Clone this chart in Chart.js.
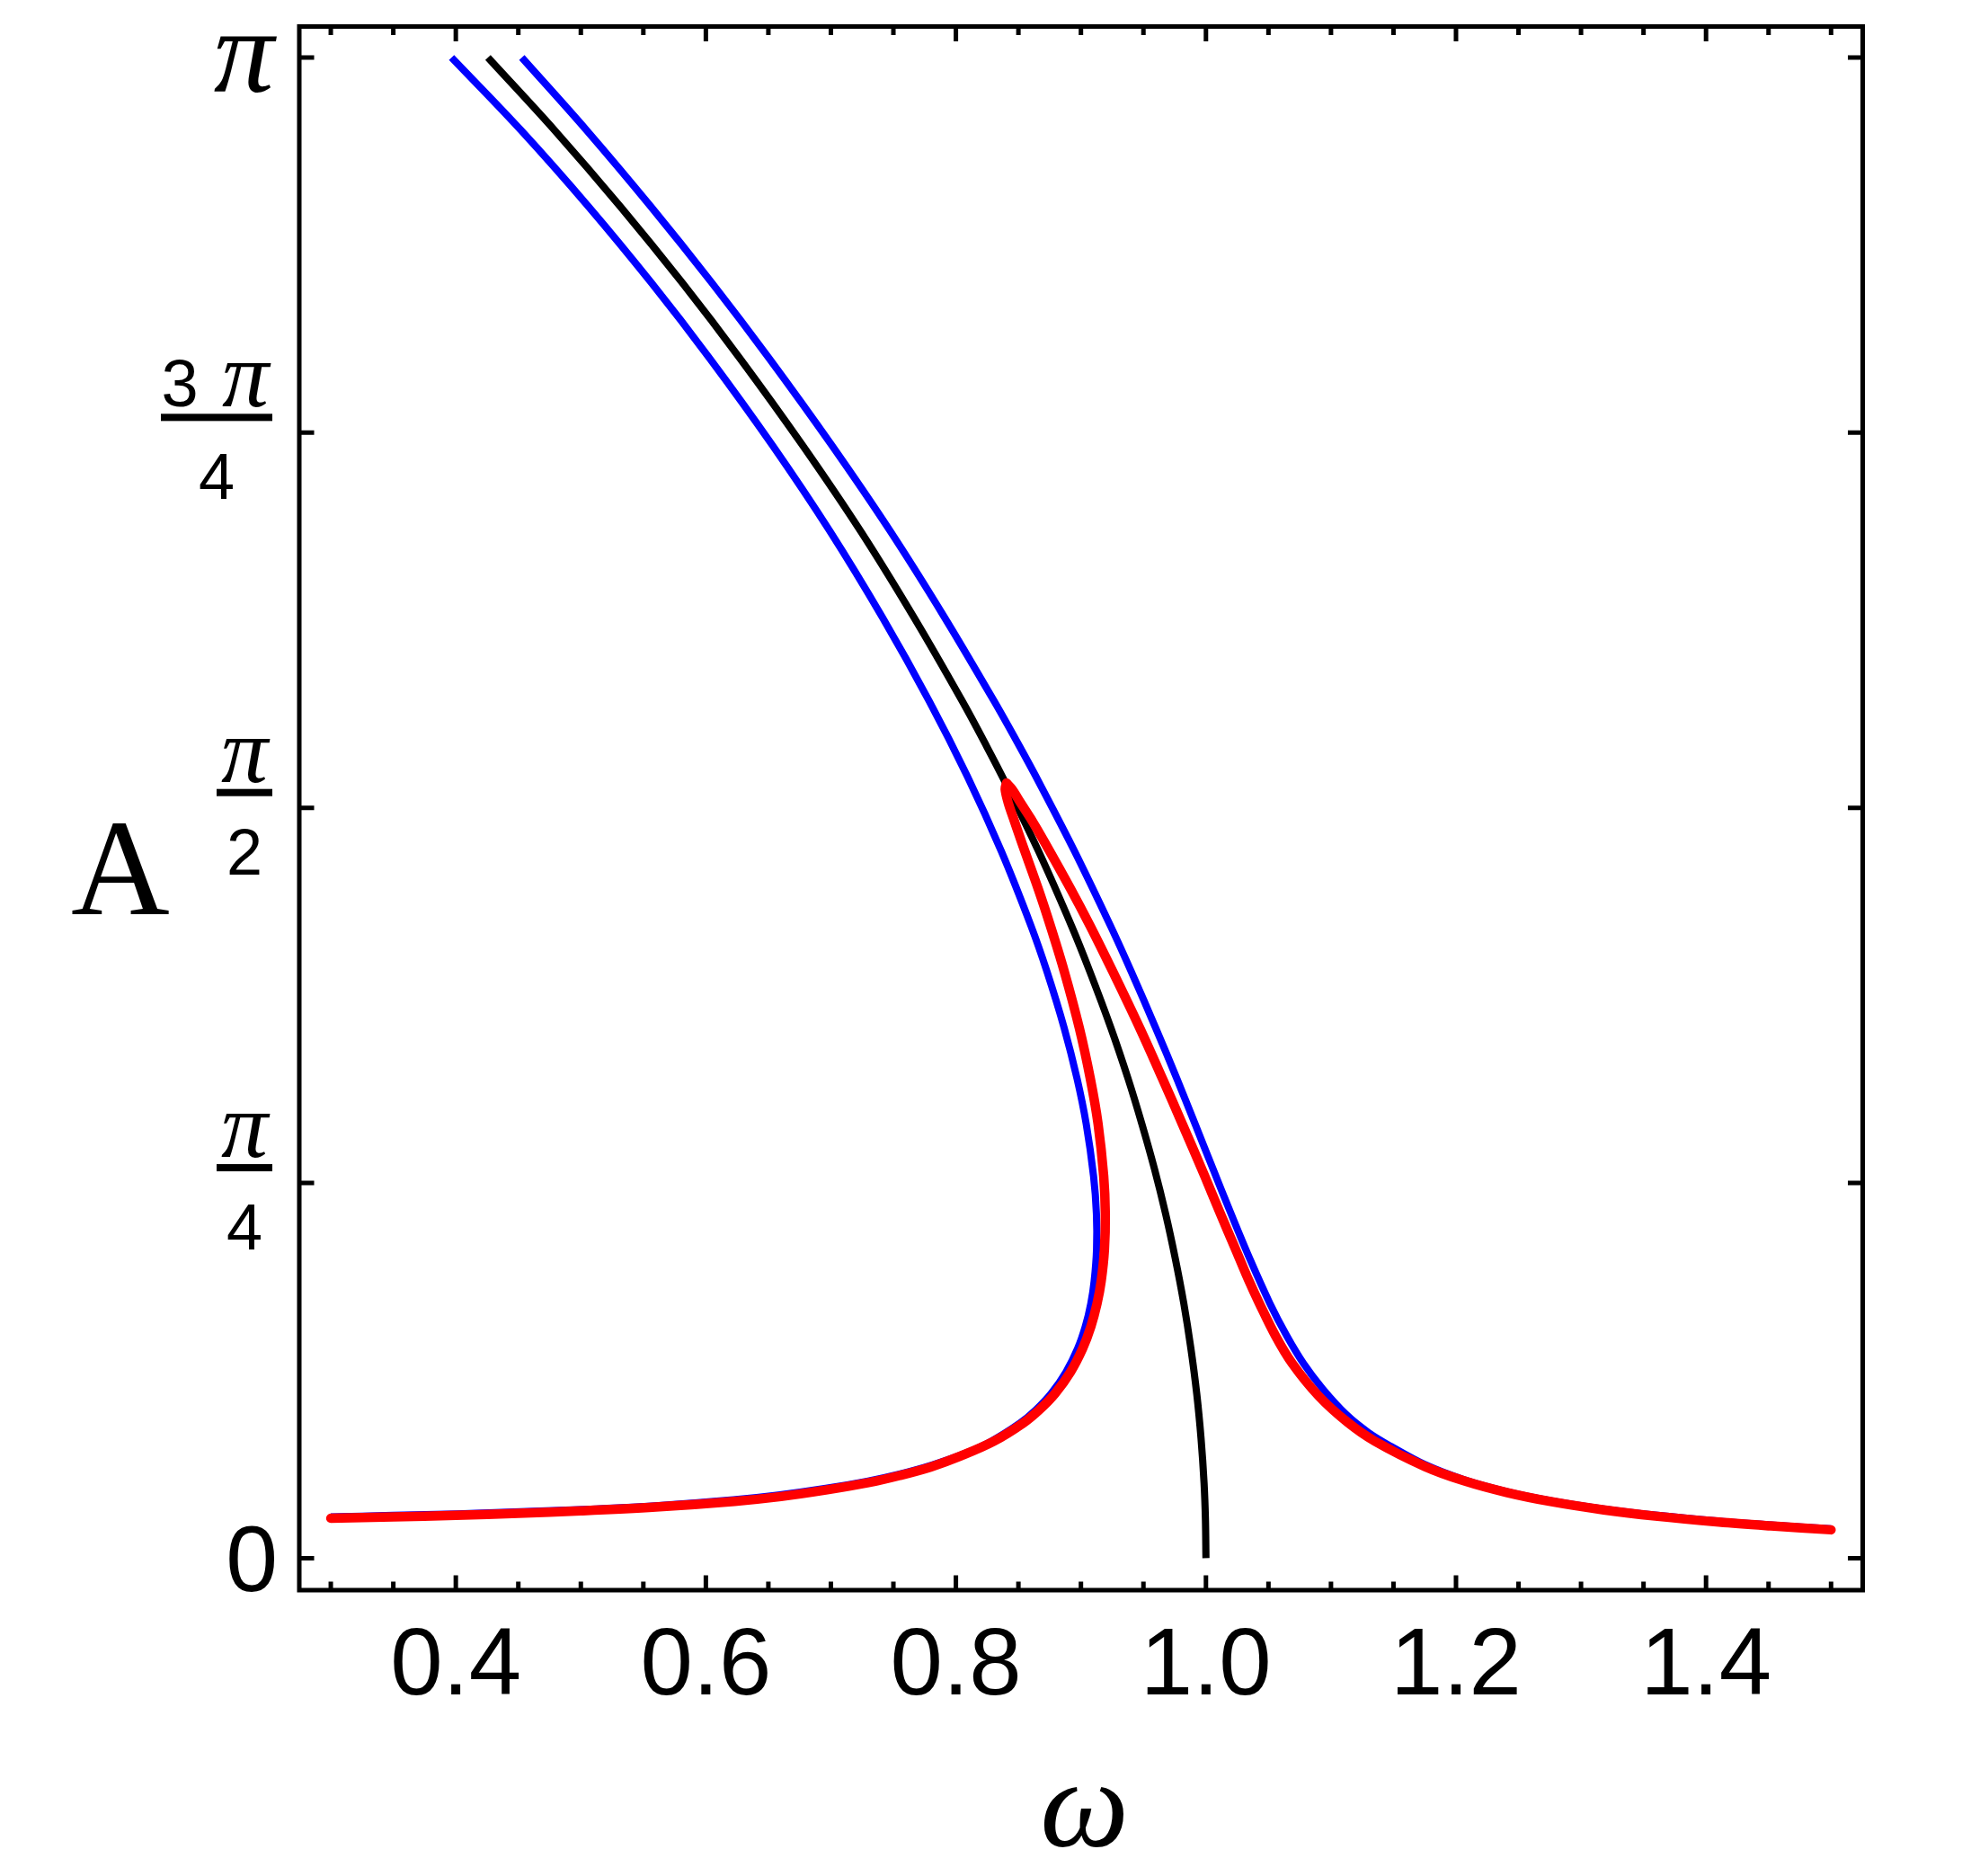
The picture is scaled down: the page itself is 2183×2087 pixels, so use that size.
<!DOCTYPE html>
<html>
<head>
<meta charset="utf-8">
<script src="https://cdn.jsdelivr.net/npm/chart.js@4.4.1/dist/chart.umd.min.js"></script>
<style>
  html, body { margin: 0; padding: 0; background: #fff; }
  #wrap { width: 2183px; height: 2087px; }
</style>
</head>
<body>
<div id="wrap"><canvas id="chart" width="2183" height="2087"></canvas></div>
<script>
// values: omega (x) and amplitude A (y)

// blue, left branch: from the top, round the nose, back along the low branch
const blueLeftW = [0.3966, 0.4519, 0.5063, 0.5564, 0.6030, 0.6532, 0.6992, 0.7411, 0.7787, 0.8091, 0.8363, 0.8601, 0.8727, 0.8866, 0.8969, 0.9042, 0.9101, 0.9124, 0.9125, 0.9106, 0.9079, 0.9035, 0.8974, 0.8881, 0.8763, 0.8638, 0.8511, 0.8282, 0.807, 0.781, 0.755, 0.729, 0.696, 0.658, 0.622, 0.562, 0.503, 0.452, 0.401, 0.350, 0.300];
const blueLeftA = [3.1416, 2.99, 2.829, 2.67, 2.512, 2.33, 2.15, 1.97, 1.794, 1.637, 1.48, 1.3235, 1.229, 1.11, 1.004, 0.9095, 0.80, 0.7213, 0.646, 0.58, 0.533, 0.485, 0.439, 0.39, 0.345, 0.31, 0.2823, 0.2446, 0.219, 0.195, 0.176, 0.161, 0.146, 0.132, 0.122, 0.110, 0.102, 0.097, 0.0925, 0.0895, 0.0865];

// blue, right branch
const blueRightW = [0.4528, 0.5044, 0.5562, 0.6048, 0.6506, 0.7007, 0.7475, 0.7908, 0.8306, 0.8508, 0.8673, 0.8949, 0.9237, 0.9401, 0.9598, 0.9767, 0.9912, 1.0056, 1.020, 1.035, 1.0512, 1.0645, 1.078, 1.0932, 1.1125, 1.130, 1.148, 1.175, 1.2062, 1.2405, 1.2767, 1.3182, 1.3594, 1.4105, 1.4518, 1.500];
const blueRightA = [3.1416, 2.99, 2.829, 2.67, 2.512, 2.33, 2.15, 1.97, 1.794, 1.70, 1.62, 1.48, 1.3235, 1.229, 1.11, 1.004, 0.9095, 0.815, 0.7213, 0.627, 0.533, 0.466, 0.4076, 0.355, 0.30, 0.263, 0.234, 0.196, 0.1645, 0.1395, 0.1200, 0.103, 0.0900, 0.0775, 0.0695, 0.0615];

// black backbone
const blackW = [0.4257, 0.4788, 0.5318, 0.5811, 0.6272, 0.6773, 0.7238, 0.7663, 0.8051, 0.8245, 0.8387, 0.8661, 0.8925, 0.9070, 0.9240, 0.9377, 0.9487, 0.9588, 0.9677, 0.9755, 0.9823, 0.9879, 0.9926, 0.9961, 0.9985, 0.9996, 1.000];
const blackA = [3.1416, 2.99, 2.829, 2.67, 2.512, 2.33, 2.15, 1.97, 1.794, 1.70, 1.628, 1.48, 1.3235, 1.229, 1.11, 1.004, 0.9095, 0.815, 0.7213, 0.627, 0.533, 0.44, 0.345, 0.25, 0.157, 0.08, 0.0];

// red, from the left end up to the cusp
const redLowW = [0.300, 0.350, 0.400, 0.450, 0.500, 0.560, 0.623, 0.660, 0.697, 0.730, 0.755, 0.780, 0.804, 0.8303, 0.8536, 0.8665, 0.8794, 0.8917, 0.9014, 0.908, 0.9129, 0.9162, 0.9188, 0.9195, 0.9182, 0.9137, 0.9075, 0.8987, 0.8866, 0.8756, 0.866, 0.8524, 0.846, 0.842, 0.8394, 0.8405];
const redLowA = [0.0835, 0.0865, 0.0895, 0.094, 0.099, 0.107, 0.119, 0.129, 0.143, 0.158, 0.173, 0.191, 0.214, 0.2446, 0.2823, 0.31, 0.345, 0.39, 0.439, 0.485, 0.533, 0.58, 0.646, 0.7213, 0.80, 0.9095, 1.004, 1.11, 1.229, 1.3235, 1.40, 1.50, 1.549, 1.58, 1.61, 1.6224];

// red, from the cusp down to the right end
const redHighW = [0.8405, 0.8448, 0.8521, 0.8597, 0.8707, 0.892, 0.9074, 0.9253, 0.947, 0.9652, 0.981, 0.999, 1.0115, 1.0238, 1.0345, 1.0428, 1.0555, 1.069, 1.090, 1.113, 1.135, 1.175, 1.2062, 1.2405, 1.2767, 1.3182, 1.3594, 1.4105, 1.4518, 1.500];
const redHighA = [1.6224, 1.61, 1.58, 1.549, 1.50, 1.40, 1.3235, 1.229, 1.11, 1.004, 0.9095, 0.80, 0.7213, 0.646, 0.58, 0.533, 0.466, 0.4076, 0.34, 0.285, 0.245, 0.192, 0.162, 0.1375, 0.118, 0.101, 0.088, 0.0755, 0.0675, 0.0593];

// ticks
const xMajor = [0.4, 0.6, 0.8, 1.0, 1.2, 1.4];
const xMajorLabels = ['0.4', '0.6', '0.8', '1.0', '1.2', '1.4'];
const xMinor = [0.3, 0.35, 0.45, 0.5, 0.55, 0.65, 0.7, 0.75, 0.85, 0.9, 0.95, 1.05, 1.1, 1.15, 1.25, 1.3, 1.35, 1.45, 1.5];
const yTicks = [0, Math.PI / 4, Math.PI / 2, 3 * Math.PI / 4, Math.PI];
const yNumer = ['0', 'π', 'π', '3 π', 'π']; // numerator (or whole label)
const yDenom = [null, '4', '2', '4', null];

const pts = (w, a) => w.map((v, i) => ({ x: v, y: a[i] }));

const SANS = "'Liberation Sans', Arial, sans-serif";
const SERIF = "'Liberation Serif', 'Times New Roman', serif";

// frame, inside ticks and all the text
const framePlugin = {
  id: 'frame',
  afterDraw(chart) {
    const { ctx, chartArea: a, scales: { x, y } } = chart;
    ctx.save();
    ctx.strokeStyle = '#000';
    ctx.fillStyle = '#000';
    ctx.lineWidth = 5;
    ctx.strokeRect(a.left, a.top, a.right - a.left, a.bottom - a.top);

    const tx = (v, len) => {
      const p = x.getPixelForValue(v);
      ctx.beginPath();
      ctx.moveTo(p, a.bottom); ctx.lineTo(p, a.bottom - len);
      ctx.moveTo(p, a.top); ctx.lineTo(p, a.top + len);
      ctx.stroke();
    };
    xMinor.forEach(v => tx(v, 9.5));
    xMajor.forEach(v => tx(v, 16.5));
    yTicks.forEach(v => {
      const p = y.getPixelForValue(v);
      ctx.beginPath();
      ctx.moveTo(a.left, p); ctx.lineTo(a.left + 16.5, p);
      ctx.moveTo(a.right, p); ctx.lineTo(a.right - 16.5, p);
      ctx.stroke();
    });

    // x tick labels
    ctx.font = '105px ' + SANS;
    ctx.textAlign = 'center';
    ctx.textBaseline = 'alphabetic';
    xMajor.forEach((v, i) => ctx.fillText(xMajorLabels[i], x.getPixelForValue(v), a.bottom + 116));

    // y tick labels
    const rx = a.left - 30;
    yTicks.forEach((v, i) => {
      const p = y.getPixelForValue(v);
      const num = yNumer[i], den = yDenom[i];
      if (!den) {
        ctx.textAlign = 'right';
        if (num === 'π') {
          ctx.font = 'italic 134px ' + SERIF;
          ctx.fillText(num, rx + 2, p + 38);
        } else {
          ctx.font = '104px ' + SANS;
          ctx.fillText(num, rx + 6, p + 37);
        }
        return;
      }
      const bar = p - 17;
      const wide = num.length > 1;
      const bw = wide ? 124 : 62;
      ctx.fillRect(rx - bw, bar - 4, bw, 8);
      const cx = rx - bw / 2;
      ctx.textAlign = 'center';
      if (wide) {
        ctx.font = '74px ' + SANS;
        ctx.fillText('3', rx - bw + 21, bar - 12);
        ctx.font = 'italic 104px ' + SERIF;
        ctx.fillText('π', rx - 30, bar - 12);
      } else {
        ctx.font = 'italic 104px ' + SERIF;
        ctx.fillText('π', cx, bar - 12);
      }
      ctx.font = '72px ' + SANS;
      ctx.fillText(den, cx, bar + 91);
    });

    // axis titles
    ctx.textAlign = 'center';
    ctx.font = '152px ' + SERIF;
    ctx.fillText('A', 134, (a.top + a.bottom) / 2 + 118);
    ctx.font = 'italic 140px ' + SERIF;
    ctx.fillText('ω', (a.left + a.right) / 2 + 4, 2054);
    ctx.restore();
  }
};

const lineDs = (label, data, color, width, order, cap) => ({
  label, data, order,
  showLine: true,
  borderColor: color,
  backgroundColor: color,
  borderWidth: width,
  pointRadius: 0,
  tension: 0.35,
  borderCapStyle: cap,
  borderJoinStyle: 'round',
  fill: false
});

new Chart(document.getElementById('chart'), {
  type: 'scatter',
  data: {
    datasets: [
      lineDs('red low', pts(redLowW, redLowA), '#ff0000', 10.5, 0, 'round'),
      lineDs('red high', pts(redHighW, redHighA), '#ff0000', 10.5, 0, 'round'),
      lineDs('backbone', pts(blackW, blackA), '#000000', 8, 1, 'butt'),
      lineDs('blue left', pts(blueLeftW, blueLeftA), '#0000ff', 8, 2, 'butt'),
      lineDs('blue right', pts(blueRightW, blueRightA), '#0000ff', 8, 2, 'butt')
    ]
  },
  options: {
    responsive: false,
    animation: false,
    devicePixelRatio: 1,
    layout: { padding: { top: 29.5, right: 110.5, left: 0, bottom: 0 } },
    plugins: { legend: { display: false }, tooltip: { enabled: false } },
    scales: {
      x: {
        type: 'linear', min: 0.2748, max: 1.5253,
        ticks: { display: false },
        grid: { display: false },
        border: { display: false },
        afterFit: s => { s.height = 318; }
      },
      y: {
        type: 'linear', min: -0.067, max: 3.2065,
        ticks: { display: false },
        grid: { display: false },
        border: { display: false },
        afterFit: s => { s.width = 333; }
      }
    }
  },
  plugins: [framePlugin]
});
</script>
</body>
</html>
